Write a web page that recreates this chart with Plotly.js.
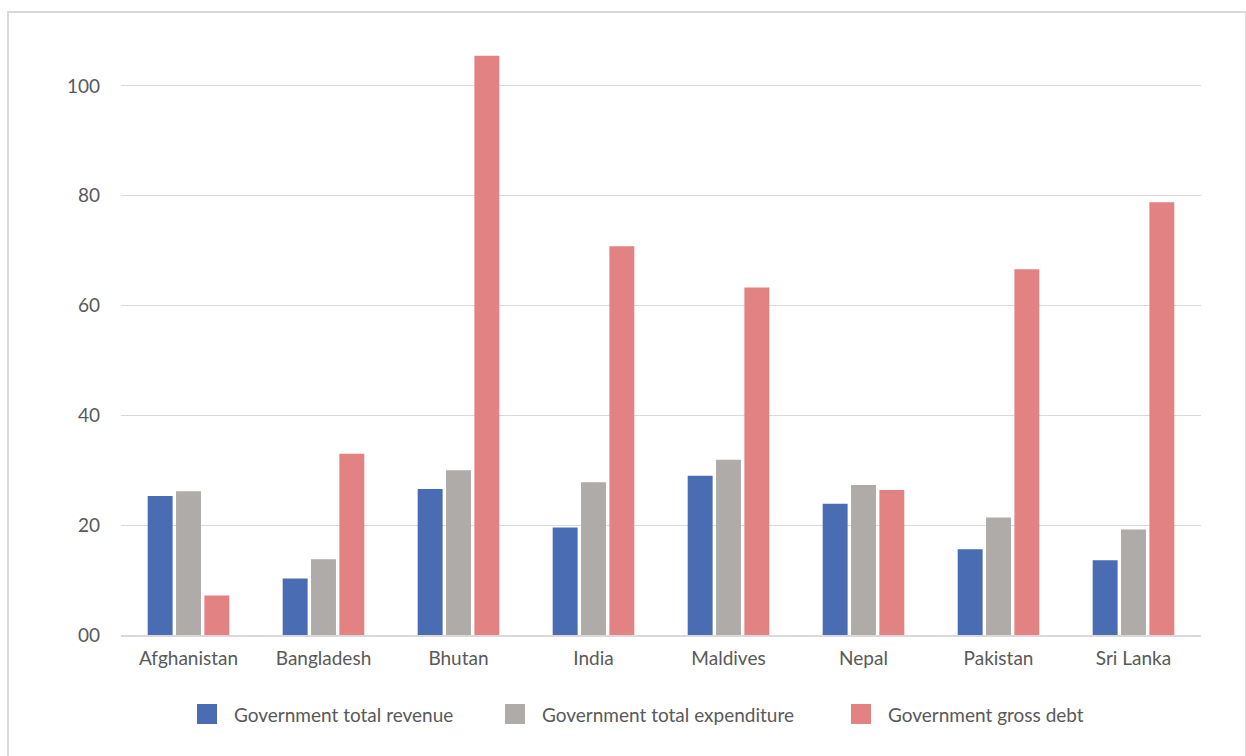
<!DOCTYPE html>
<html>
<head>
<meta charset="utf-8">
<script src="https://cdn.plot.ly/plotly-3.0.1.min.js"></script>
<style>
  html, body { margin: 0; padding: 0; background: #fff; }
  #wrap { position: relative; width: 1246px; height: 756px; }
  #chart { width: 1246px; height: 756px; }
  #frame { position: absolute; left: 7px; top: 11px; width: 1240px; height: 750px;
           border: 2px solid #d9d9d9; box-sizing: border-box; pointer-events: none; }
</style>
</head>
<body>
<div id="wrap">
  <div id="chart"></div>
  <div id="frame"></div>
</div>
<script>
const countries = ["Afghanistan", "Bangladesh", "Bhutan", "India", "Maldives", "Nepal", "Pakistan", "Sri Lanka"];
const revenue     = [25.3, 10.3, 26.6, 19.6, 29.0, 23.9, 15.6, 13.6];
const expenditure = [26.2, 13.8, 30.0, 27.8, 31.9, 27.3, 21.4, 19.2];
const grossDebt   = [7.2, 33.0, 105.5, 70.8, 63.3, 26.4, 66.6, 78.8];
const seriesNames = ["Government total revenue", "Government total expenditure", "Government gross debt"];
const tickValues  = [0, 20, 40, 60, 80, 100];
const tickLabels  = ["00", "20", "40", "60", "80", "100"];

const colors = ["#4A6CB3", "#AFABA8", "#E28282"];
const values = [revenue, expenditure, grossDebt];

const W = 1246, H = 756;
const M = { l: 121, r: 45, t: 42, b: 121 };
const pw = W - M.l - M.r, ph = H - M.t - M.b;
const px2x = p => (p - M.l) / pw;
const py2y = p => (H - M.b - p) / ph;

const data = values.map((v, i) => ({
  type: "bar",
  name: seriesNames[i],
  x: countries,
  y: v,
  marker: { color: colors[i], line: { width: 0 } },
  hoverinfo: "x+y+name"
}));

// custom legend (Excel-style large square swatches)
const swatchLeft = [197, 505, 851];
const legendY = 714;
const shapes = [];
const annotations = [];
seriesNames.forEach((name, i) => {
  shapes.push({
    type: "rect", xref: "paper", yref: "paper", layer: "above",
    x0: px2x(swatchLeft[i]), x1: px2x(swatchLeft[i] + 20),
    y0: py2y(legendY + 10), y1: py2y(legendY - 10),
    fillcolor: colors[i], line: { width: 0 }
  });
  annotations.push({
    xref: "paper", yref: "paper", showarrow: false,
    x: px2x(swatchLeft[i] + 35), y: py2y(legendY),
    xanchor: "left", yanchor: "middle",
    text: name,
    font: { size: 19, color: "#595959" }
  });
});

const layout = {
  width: W,
  height: H,
  margin: M,
  paper_bgcolor: "#ffffff",
  plot_bgcolor: "#ffffff",
  font: { family: "Lato, 'Open Sans', sans-serif", size: 19, color: "#595959" },
  barmode: "group",
  bargap: 0.37,
  bargroupgap: 0.12,
  showlegend: false,
  shapes: shapes,
  annotations: annotations,
  xaxis: {
    type: "category",
    showgrid: false,
    showline: true,
    linecolor: "#d9d9d9",
    linewidth: 1.5,
    ticks: "",
    ticklabelstandoff: 5,
    tickfont: { size: 19, color: "#595959" },
    zeroline: false,
    fixedrange: true
  },
  yaxis: {
    range: [0, 108],
    tickvals: tickValues,
    ticktext: tickLabels,
    showgrid: true,
    gridcolor: "#d9d9d9",
    gridwidth: 1,
    zeroline: false,
    showline: false,
    ticks: "",
    ticklabelstandoff: 20,
    tickfont: { size: 19, color: "#595959" },
    fixedrange: true
  }
};

Plotly.newPlot("chart", data, layout, { displayModeBar: false });
</script>
</body>
</html>
